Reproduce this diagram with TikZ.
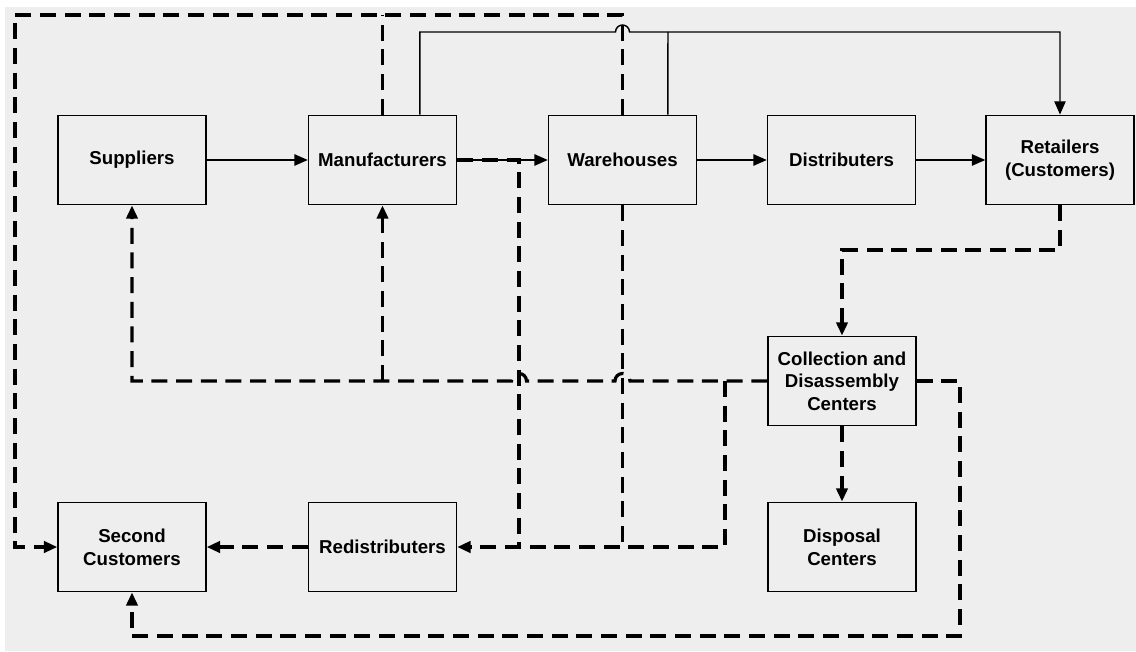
\documentclass[tikz,border=0pt]{standalone}
\usepackage{fontspec}
\setmainfont{Liberation Sans}
\usetikzlibrary{arrows.meta}
\definecolor{bggray}{RGB}{238,238,238}
\tikzset{
  box/.style={draw, line width=1.1pt, minimum width=111pt, minimum height=67pt,
    align=center, inner sep=2pt, font=\fontsize{14}{17}\selectfont\bfseries},
  flow/.style={line width=1.1pt, -{Triangle[length=10pt,width=8.5pt]}},
  backline/.style={line width=2.4pt, dash pattern=on 12pt off 6.5pt},
  back/.style={backline, -{Triangle[length=10pt,width=8.5pt]}}
}
\begin{document}
\begin{tikzpicture}[x=0.75pt,y=0.75pt]
\useasboundingbox (0,0) rectangle (1136,651);
\fill[bggray] (5,0) rectangle (1136,644);
% forward chain
\node[box] (sup) at (132,491) {Suppliers};
\node[box] (man) at (382.5,491) {Manufacturers};
\node[box] (war) at (622.5,491) {Warehouses};
\node[box] (dis) at (841.5,491) {Distributers};
\node[box] (ret) at (1060,491) {Retailers\\(Customers)};
% reverse chain
\node[box] (col) at (842,270) {Collection and\\Disassembly\\Centers};
\node[box] (dsp) at (842,104) {Disposal\\Centers};
\node[box] (red) at (382.5,104) {Redistributers};
\node[box] (sec) at (132,104) {Second\\Customers};
% solid flows
\draw[flow] (sup) -- (man);
\draw[flow] (man) -- (war);
\draw[flow] (war) -- (dis);
\draw[flow] (dis) -- (ret);
\draw[flow] ([xshift=28pt]man.north) |- (615.5,619) arc(180:0:7) -- (1060,619) -- (ret.north);
\draw[line width=1.1pt] ([xshift=34pt]war.north) -- (668,619);
% dashed flows
\draw[back] (war.north) |- (15,636) |- (sec.west);
\draw[backline] (man.north) -- (382.5,636);
\draw[back] (ret.south) |- (842,401) -- (col.north);
\draw[back] (col) -- (dsp);
\draw[back] (col.west) -- (630,270) arc(0:180:7.5) -- (526.5,270) arc(0:180:7.5) -- (132,270) -- (sup.south);
\draw[back] (382.5,270) -- (man.south);
\draw[back] (725,270) |- (red.east);
\draw[backline] (war.south) -- (622.5,104);
\draw[backline] (man.east) -| (519,104);
\draw[back] (red) -- (sec);
\draw[back] (col.east) -| (960,15) -| (sec.south);
\end{tikzpicture}
\end{document}
